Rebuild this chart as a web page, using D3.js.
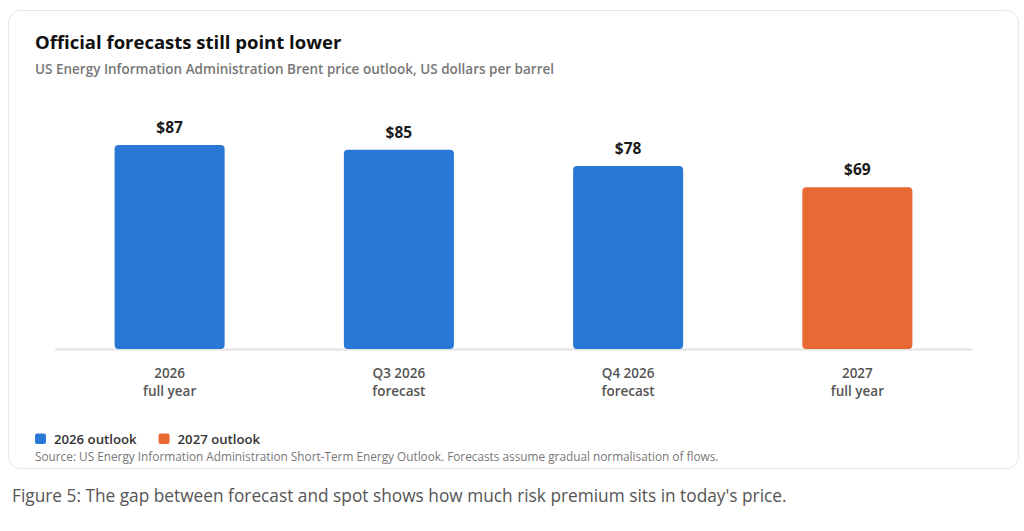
<!DOCTYPE html>
<html>
<head>
<meta charset="utf-8">
<script src="https://cdn.jsdelivr.net/npm/d3@7"></script>
<style>
	body { margin: 0; background: #fff; font-family: "Open Sans", "Noto Sans", sans-serif; }
</style>
</head>
<body>
<script>
// chart values
const categories = ["2026|full year", "Q3 2026|forecast", "Q4 2026|forecast", "2027|full year"];
const prices = [87, 85, 78, 69];
const series = ["2026 outlook", "2026 outlook", "2026 outlook", "2027 outlook"];
const legendLabels = ["2026 outlook", "2027 outlook"];

const width = 1024, height = 531;
const colors = { "2026 outlook": "#2a78d6", "2027 outlook": "#e96935" };

const svg = d3.select("body")
	.append("svg")
	.attr("width", width)
	.attr("height", height);

// card
svg.append("rect")
	.attr("x", 8.5).attr("y", 10.5)
	.attr("width", 1010).attr("height", 458)
	.attr("rx", 12)
	.attr("fill", "#fff")
	.attr("stroke", "#e8e8e8");

svg.append("text")
	.attr("x", 35).attr("y", 49)
	.attr("font-size", 18.5).attr("font-weight", 700)
	.attr("fill", "#111")
	.text("Official forecasts still point lower");

svg.append("text")
	.attr("x", 35).attr("y", 74)
	.attr("font-size", 13.5).attr("font-weight", 600)
	.attr("fill", "#777")
	.text("US Energy Information Administration Brent price outlook, US dollars per barrel");

const x = d3.scaleBand()
	.domain(categories)
	.range([55, 972])
	.paddingInner(0.52)
	.paddingOuter(0.26);

const y = d3.scaleLinear()
	.domain([0, 100])
	.range([349, 114.5]);

// baseline
svg.append("line")
	.attr("x1", 55).attr("x2", 972)
	.attr("y1", y(0) + 0.5).attr("y2", y(0) + 0.5)
	.attr("stroke", "#e2e2e2").attr("stroke-width", 2);

const data = categories.map((c, i) => ({ cat: c, value: prices[i], series: series[i] }));

svg.selectAll("rect.bar")
	.data(data)
	.join("rect")
	.attr("class", "bar")
	.attr("x", d => x(d.cat))
	.attr("y", d => y(d.value))
	.attr("width", x.bandwidth())
	.attr("height", d => y(0) - y(d.value))
	.attr("rx", 4)
	.attr("fill", d => colors[d.series]);

svg.selectAll("text.val")
	.data(data)
	.join("text")
	.attr("class", "val")
	.attr("x", d => x(d.cat) + x.bandwidth() / 2)
	.attr("y", d => y(d.value) - 12)
	.attr("text-anchor", "middle")
	.attr("font-size", 15.5).attr("font-weight", 700)
	.attr("fill", "#1a1a1a")
	.text(d => "$" + d.value);

// category labels, two lines each
const catLabels = svg.selectAll("text.cat")
	.data(categories)
	.join("text")
	.attr("class", "cat")
	.attr("text-anchor", "middle")
	.attr("font-size", 13.5).attr("font-weight", 600)
	.attr("fill", "#555");
catLabels.selectAll("tspan")
	.data(d => d.split("|").map(s => ({ s, cx: x(d) + x.bandwidth() / 2 })))
	.join("tspan")
	.attr("x", d => d.cx)
	.attr("y", (d, i) => 378 + i * 18)
	.text(d => d.s);

// legend
let lx = 35;
legendLabels.forEach(l => {
	svg.append("rect")
		.attr("x", lx).attr("y", 433.5)
		.attr("width", 11).attr("height", 10.5)
		.attr("rx", 2)
		.attr("fill", colors[l]);
	const t = svg.append("text")
		.attr("x", lx + 19).attr("y", 443.5)
		.attr("font-size", 13.2).attr("font-weight", 600)
		.attr("fill", "#333")
		.text(l);
	lx += 19 + t.node().getComputedTextLength() + 22;
});

svg.append("text")
	.attr("x", 35).attr("y", 460.5)
	.attr("font-size", 11.8)
	.attr("fill", "#777")
	.text("Source: US Energy Information Administration Short-Term Energy Outlook. Forecasts assume gradual normalisation of flows.");

svg.append("text")
	.attr("x", 12).attr("y", 502)
	.attr("font-size", 17.3)
	.attr("fill", "#555")
	.text("Figure 5: The gap between forecast and spot shows how much risk premium sits in today's price.");
</script>
</body>
</html>
